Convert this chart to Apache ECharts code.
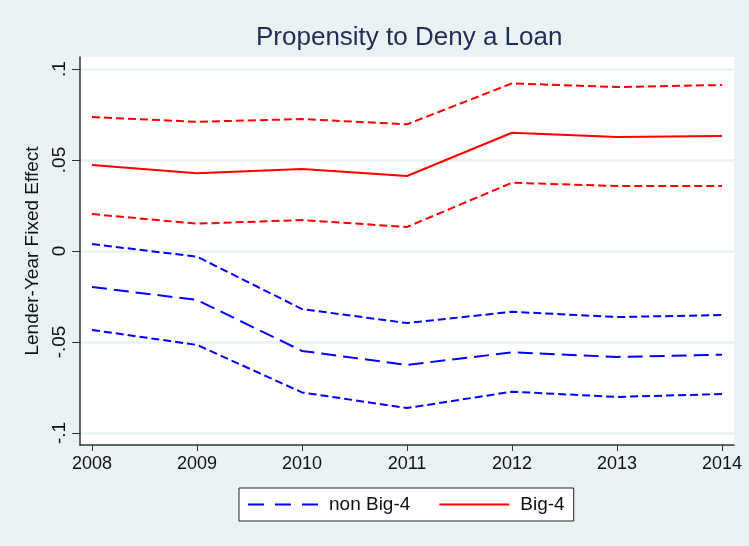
<!DOCTYPE html>
<html>
<head>
<meta charset="utf-8">
<script src="https://cdn.jsdelivr.net/npm/echarts@6/dist/echarts.min.js"></script>
<style>
  html, body { margin: 0; padding: 0; background: #eaf2f3; }
  #chart { width: 749px; height: 546px; }
</style>
</head>
<body>
<div id="chart"></div>
<script>
// Years on the horizontal axis
const years = [2008, 2009, 2010, 2011, 2012, 2013, 2014];
const yTicks = [-0.1, -0.05, 0, 0.05, 0.1];

// Big-4 lender-year fixed effect with 95% band
const big4 = [0.0473, 0.0427, 0.0451, 0.0412, 0.0650, 0.0626, 0.0632];
const big4Upper = [0.0736, 0.0710, 0.0725, 0.0696, 0.0921, 0.0901, 0.0912];
const big4Lower = [0.0203, 0.0150, 0.0170, 0.0132, 0.0375, 0.0357, 0.0357];

// non Big-4 lender-year fixed effect with 95% band
const nonBig4 = [-0.0198, -0.0269, -0.0549, -0.0626, -0.0557, -0.0582, -0.0570];
const nonBig4Upper = [0.0038, -0.0031, -0.0319, -0.0396, -0.0334, -0.0363, -0.0352];
const nonBig4Lower = [-0.0434, -0.0516, -0.0777, -0.0863, -0.0773, -0.0802, -0.0786];

const FONT = '"Liberation Sans", Arial, sans-serif';
const pair = arr => years.map((y, i) => [y, arr[i]]);

function yLabel(v) {
  if (Math.abs(v) < 1e-9) return '0';
  let s = String(+v.toFixed(3));
  return s.replace('0.', '.');
}

const chart = echarts.init(document.getElementById('chart'), null, { renderer: 'canvas' });

const band = (name, data, color) => ({
  name: name, type: 'line', data: pair(data), symbol: 'none', silent: true,
  lineStyle: { color: color, width: 2, type: [8, 4] }, z: 2
});

chart.setOption({
  backgroundColor: '#eaf2f3',
  animation: false,
  title: {
    text: 'Propensity to Deny a Loan',
    left: 251, top: 20,
    textStyle: { fontFamily: FONT, fontSize: 26, fontWeight: 'normal', color: '#1f2d57' }
  },
  grid: {
    left: 80, right: 15, top: 57, bottom: 101,
    show: true, backgroundColor: '#ffffff', borderWidth: 0
  },
  legend: {
    data: [
      { name: 'non Big-4', lineStyle: { type: [16, 11] } },
      { name: 'Big-4' }
    ],
    left: 239, top: 488,
    backgroundColor: '#ffffff', borderColor: '#222', borderWidth: 1,
    padding: [7, 9, 7, 8],
    itemWidth: 70, itemHeight: 10, itemGap: 28,
    itemStyle: { opacity: 0 },
    textStyle: { fontFamily: FONT, fontSize: 19, color: '#111', padding: [0, 0, 0, 6] }
  },
  xAxis: {
    type: 'value',
    min: 2007.886, max: 2014.114,
    axisLine: { show: true, onZero: false, lineStyle: { color: '#333', width: 1.5 } },
    axisTick: { show: true, length: 6, customValues: years, lineStyle: { color: '#333' } },
    axisLabel: {
      customValues: years, margin: 10,
      fontFamily: FONT, fontSize: 18, color: '#111',
      formatter: v => String(Math.round(v))
    },
    splitLine: { show: false }
  },
  yAxis: {
    type: 'value',
    min: -0.1066, max: 0.1066,
    name: 'Lender-Year Fixed Effect',
    nameLocation: 'middle', nameGap: 36, nameRotate: 90,
    nameTextStyle: { fontFamily: FONT, fontSize: 19, color: '#111' },
    axisLine: { show: true, onZero: false, lineStyle: { color: '#333', width: 1.5 } },
    axisTick: { show: true, length: 8, customValues: yTicks, lineStyle: { color: '#333' } },
    axisLabel: {
      customValues: yTicks, rotate: 90, margin: 11,
      fontFamily: FONT, fontSize: 19, color: '#111',
      formatter: yLabel
    },
    splitLine: { show: true, lineStyle: { color: '#eaf2f3', width: 2.5 } }
  },
  series: [
    band('non Big-4 upper', nonBig4Upper, '#0000ff'),
    band('non Big-4 lower', nonBig4Lower, '#0000ff'),
    band('Big-4 upper', big4Upper, '#ff0000'),
    band('Big-4 lower', big4Lower, '#ff0000'),
    {
      name: 'non Big-4', type: 'line', data: pair(nonBig4), symbol: 'none',
      lineStyle: { color: '#0000ff', width: 2, type: [15, 7] },
      itemStyle: { color: '#0000ff' }, z: 3
    },
    {
      name: 'Big-4', type: 'line', data: pair(big4), symbol: 'none',
      lineStyle: { color: '#ff0000', width: 2 },
      itemStyle: { color: '#ff0000' }, z: 3
    }
  ]
});
</script>
</body>
</html>
